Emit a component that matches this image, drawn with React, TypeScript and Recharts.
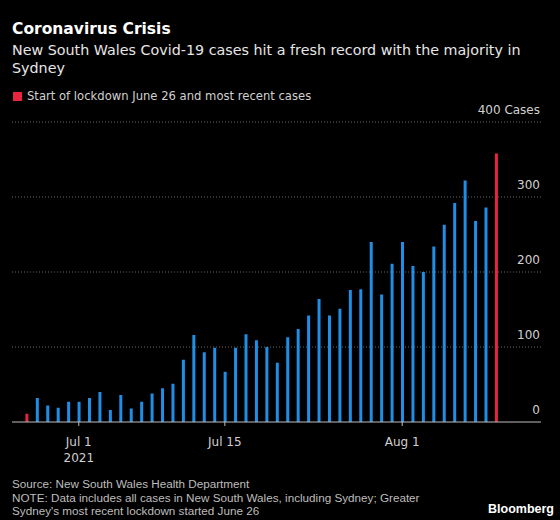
import { BarChart, Bar, Cell, XAxis, YAxis, CartesianGrid } from 'recharts';

// Daily new cases, Jun 26 – Aug 10 2021
const DATES = [
  'Jun 26', 'Jun 27', 'Jun 28', 'Jun 29', 'Jun 30', 'Jul 1', 'Jul 2', 'Jul 3', 'Jul 4', 'Jul 5',
  'Jul 6', 'Jul 7', 'Jul 8', 'Jul 9', 'Jul 10', 'Jul 11', 'Jul 12', 'Jul 13', 'Jul 14', 'Jul 15',
  'Jul 16', 'Jul 17', 'Jul 18', 'Jul 19', 'Jul 20', 'Jul 21', 'Jul 22', 'Jul 23', 'Jul 24', 'Jul 25',
  'Jul 26', 'Jul 27', 'Jul 28', 'Jul 29', 'Jul 30', 'Jul 31', 'Aug 1', 'Aug 2', 'Aug 3', 'Aug 4',
  'Aug 5', 'Aug 6', 'Aug 7', 'Aug 8', 'Aug 9', 'Aug 10',
];
const CASES = [
  11, 32, 22, 19, 27, 27, 32, 40, 16, 36,
  18, 27, 38, 45, 51, 83, 116, 93, 99, 67,
  99, 117, 109, 100, 79, 113, 124, 142, 164, 142,
  151, 176, 177, 240, 170, 211, 240, 208, 200, 234,
  263, 292, 322, 268, 286, 358,
];
const HIGHLIGHT = ['Jun 26', 'Aug 10'];

const X_TICKS = ['Jul 1', 'Jul 15', 'Aug 1'];
const Y_TICKS = [0, 100, 200, 300, 400];

const BLUE = '#1e8ee6';
const RED = '#e8253f';
const FONT = '"DejaVu Sans", sans-serif';
const FONT_NARROW = '"Liberation Sans", Arial, sans-serif';

const data = DATES.map((d, i) => ({ i, date: d, cases: CASES[i] }));
const xTickIdx = X_TICKS.map((t) => DATES.indexOf(t));

function XTick({ x, y, payload }: any) {
  const label = DATES[payload.value];
  return (
    <g>
      <text x={x} y={y + 18} textAnchor="middle" fill="#d0d0d0" fontSize={12} fontFamily={FONT}>
        {label}
      </text>
      {label === 'Jul 1' && (
        <text x={x} y={y + 34} textAnchor="middle" fill="#d0d0d0" fontSize={12} fontFamily={FONT}>
          2021
        </text>
      )}
    </g>
  );
}

function YTick({ y, payload }: any) {
  const v = payload.value;
  return (
    <text x={540} y={y - 8} textAnchor="end" fill="#d0d0d0" fontSize={12} fontFamily={FONT}>
      {v === 400 ? '400 Cases' : v}
    </text>
  );
}

export default function App() {
  return (
    <div style={{ position: 'absolute', left: 0, top: 0, width: 560, height: 520, background: '#000', fontFamily: FONT, overflow: 'hidden' }}>
      <div style={{ position: 'absolute', left: 12, top: 20, color: '#fff', fontSize: 15.5, fontWeight: 700 }}>
        Coronavirus Crisis
      </div>
      <div style={{ position: 'absolute', left: 12, top: 41, width: 525, color: '#e6e6e6', fontSize: 14.3, lineHeight: '18px' }}>
        New South Wales Covid-19 cases hit a fresh record with the majority in Sydney
      </div>
      <div style={{ position: 'absolute', left: 13, top: 92, width: 9, height: 9, background: RED }} />
      <div style={{ position: 'absolute', left: 27, top: 89, color: '#d0d0d0', fontSize: 11.6 }}>
        Start of lockdown June 26 and most recent cases
      </div>

      <div style={{ position: 'absolute', left: 0, top: 0 }}>
        <BarChart width={560} height={520} data={data} margin={{ top: 122, right: 0, bottom: 58, left: 12 }}>
          <CartesianGrid vertical={false} stroke="#666" strokeDasharray="1 2" horizontalValues={[100, 200, 300, 400]} />
          <XAxis
            dataKey="i"
            type="number"
            domain={[-1.4, 49.3]}
            ticks={xTickIdx}
            tick={<XTick />}
            height={40}
            stroke="#bdbdbd"
            tickSize={4}
            interval={0}
            allowDataOverflow
          />
          <YAxis
            orientation="right"
            domain={[0, 400]}
            ticks={Y_TICKS}
            width={19}
            axisLine={false}
            tickLine={false}
            tick={<YTick />}
            interval={0}
          />
          <Bar dataKey="cases" barSize={3} isAnimationActive={false}>
            {data.map((d) => (
              <Cell key={d.i} fill={HIGHLIGHT.includes(d.date) ? RED : BLUE} />
            ))}
          </Bar>
        </BarChart>
      </div>

      <div style={{ position: 'absolute', left: 12, top: 477, color: '#bdbdbd', fontSize: 11.7, lineHeight: '13.5px', fontFamily: FONT_NARROW }}>
        Source: New South Wales Health Department
        <br />
        NOTE: Data includes all cases in New South Wales, including Sydney; Greater
        <br />
        Sydney's most recent lockdown started June 26
      </div>
      <div style={{ position: 'absolute', left: 488, top: 502, color: '#fff', fontSize: 12.5, fontWeight: 700, fontFamily: FONT_NARROW }}>
        Bloomberg
      </div>
    </div>
  );
}
